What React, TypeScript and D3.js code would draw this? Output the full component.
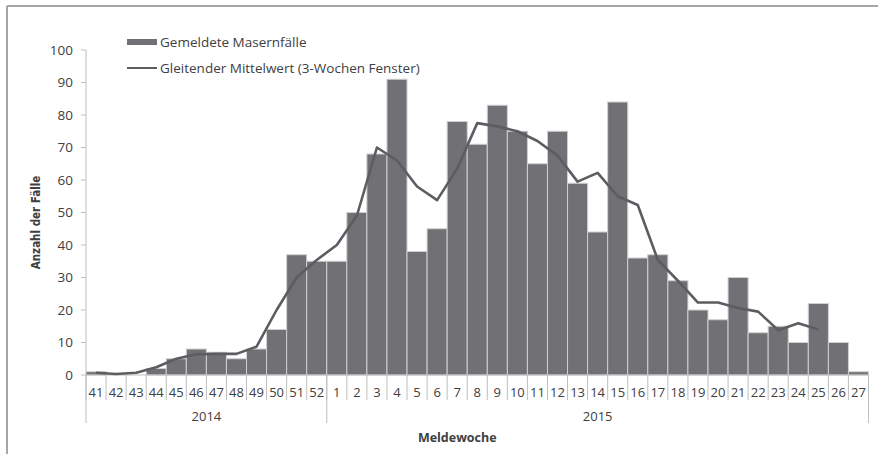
import React from "react";
import * as d3 from "d3";

const weeks = ["41","42","43","44","45","46","47","48","49","50","51","52","1","2","3","4","5","6","7","8","9","10","11","12","13","14","15","16","17","18","19","20","21","22","23","24","25","26","27"];
const years = [
  { label: "2014", from: 0, to: 12 },
  { label: "2015", from: 12, to: 39 },
];
const cases = [1,0,0,2,5,8,7,5,8,14,37,35,35,50,68,91,38,45,78,71,83,75,65,75,59,44,84,36,37,29,20,17,30,13,15,10,22,10,1];
const movingAvg = [0.7,0.3,0.7,2.4,5,6.4,6.5,6.5,8.7,20,30,35.4,40,49,70,66,58,53.8,63.5,77.5,76.5,75,72,67.5,59.5,62.2,55,52.3,35.4,29,22.3,22.3,20.6,19.5,13.8,15.9,14];
const yTicks = [0,10,20,30,40,50,60,70,80,90,100];

const W = 878, H = 454;
const left = 86, right = 868.5, top = 50, bottom = 375;
const font = "'Open Sans', 'DejaVu Sans', sans-serif";
const textColor = "#404040";
const axisColor = "#bfbfbf";

export default function App() {
  const x = d3.scaleBand<number>().domain(d3.range(weeks.length)).range([left, right]).paddingInner(0).paddingOuter(0);
  const y = d3.scaleLinear().domain([0, 100]).range([bottom, top]);
  const bw = x.bandwidth();
  const line = d3.line<number>()
    .x((_, i) => (x(i) as number) + bw / 2)
    .y((d) => y(d))
    .curve(d3.curveLinear);

  return (
    <svg width={W} height={H} style={{ position: "fixed", left: 0, top: 0, background: "#fff" }}>
      {/* frame */}
      <line x1={7} y1={6} x2={W} y2={6} stroke="#a6a6a6" strokeWidth={2} />
      <line x1={7} y1={6} x2={7} y2={H} stroke="#a6a6a6" strokeWidth={2} />

      {/* y axis */}
      <line x1={left} y1={top} x2={left} y2={bottom} stroke={axisColor} strokeWidth={1} />
      {yTicks.map((t) => (
        <g key={t}>
          <line x1={left - 5} x2={left} y1={y(t)} y2={y(t)} stroke={axisColor} />
          <text x={left - 13} y={y(t)} dy="0.35em" textAnchor="end" fontFamily={font} fontSize={13.5} fill={textColor}>{t}</text>
        </g>
      ))}
      <text transform={`translate(40,${(top + bottom) / 2 + 10}) rotate(-90)`} textAnchor="middle" fontFamily="'Liberation Sans Narrow', 'DejaVu Sans Condensed', 'Open Sans', sans-serif" fontWeight="bold" fontSize={11.5} fill={textColor}>Anzahl der Fälle</text>

      {/* bars */}
      {cases.map((v, i) => (
        <rect key={i} x={x(i) as number} y={y(v)} width={bw} height={bottom - y(v)} fill="#707075" stroke="#d0d0d0" strokeWidth={1} />
      ))}

      {/* x axis */}
      <line x1={left} x2={right} y1={bottom} y2={bottom} stroke={axisColor} />
      {weeks.map((w, i) => (
        <g key={i}>
          <line x1={x(i) as number} x2={x(i) as number} y1={bottom} y2={400} stroke={axisColor} />
          <text x={(x(i) as number) + bw / 2} y={392} dy="0.35em" textAnchor="middle" fontFamily={font} fontSize={13} fill={textColor}>{w}</text>
        </g>
      ))}
      {years.map((yr, k) => {
        const x0 = x(yr.from) as number;
        const x1 = yr.to >= weeks.length ? right : (x(yr.to) as number);
        return (
          <g key={k}>
            <line x1={x0} x2={x0} y1={bottom} y2={423} stroke={axisColor} />
            {k === years.length - 1 && <line x1={x1} x2={x1} y1={bottom} y2={423} stroke={axisColor} />}
            <text x={(x0 + x1) / 2} y={416} dy="0.35em" textAnchor="middle" fontFamily={font} fontSize={13} fill={textColor}>{yr.label}</text>
          </g>
        );
      })}
      <text x={(left + right) / 2 - 20} y={438} dy="0.35em" textAnchor="middle" fontFamily={font} fontWeight="bold" fontSize={12.5} fill={textColor}>Meldewoche</text>

      {/* moving average */}
      <path d={line(movingAvg) || ""} fill="none" stroke="#5d5d61" strokeWidth={2.6} strokeLinejoin="round" />

      {/* legend */}
      <rect x={127} y={39} width={30} height={6} fill="#707075" />
      <text x={160} y={42} dy="0.35em" fontFamily={font} fontSize={13.5} fill={textColor}>Gemeldete Masernfälle</text>
      <line x1={127} x2={157} y1={68} y2={68} stroke="#5d5d61" strokeWidth={2} />
      <text x={160} y={68} dy="0.35em" fontFamily={font} fontSize={13.5} fill={textColor}>Gleitender Mittelwert (3-Wochen Fenster)</text>
    </svg>
  );
}
